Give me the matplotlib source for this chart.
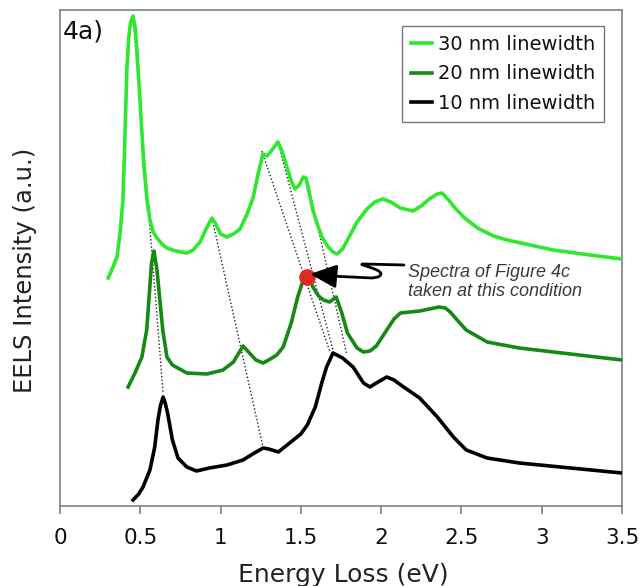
import numpy as np
import matplotlib
matplotlib.use("Agg")
import matplotlib.pyplot as plt
from matplotlib.path import Path
from matplotlib.patches import PathPatch

# ---------------- data ----------------
e30 = [0.30, 0.33, 0.355, 0.374, 0.392, 0.405, 0.417, 0.428, 0.440, 0.455, 0.468,
       0.479, 0.498, 0.523, 0.542, 0.560, 0.58, 0.604, 0.64, 0.666, 0.72, 0.791,
       0.83, 0.872, 0.91, 0.946, 0.97, 1.00, 1.04, 1.08, 1.121, 1.16, 1.202,
       1.235, 1.264, 1.289, 1.32, 1.357, 1.38, 1.413, 1.44, 1.463, 1.49, 1.515,
       1.532, 1.555, 1.575, 1.60, 1.631, 1.67, 1.70, 1.725, 1.76, 1.80, 1.85,
       1.912, 1.96, 2.011, 2.06, 2.12, 2.198, 2.25, 2.30, 2.35, 2.379, 2.42,
       2.46, 2.52, 2.6, 2.7, 2.783, 2.9, 3.07, 3.3, 3.5]
i30 = [228, 239, 249, 273, 306, 373, 439, 468, 484, 490, 478,
       456, 406, 339, 306, 286, 274, 268, 261, 258, 255, 253,
       256, 264, 277, 288, 282, 272, 269, 272, 277, 290, 308,
       333, 352, 350, 356, 364, 356, 339, 325, 317, 321, 329,
       328, 311, 296, 283, 269, 259, 254, 252, 257, 269, 284,
       297, 304, 307, 304, 298, 295, 300, 307, 312, 313, 306,
       298, 288, 278, 270, 266, 262, 256, 251, 247]

e20 = [0.424, 0.467, 0.51, 0.54, 0.555, 0.57, 0.585, 0.604, 0.62, 0.64, 0.666,
       0.70, 0.79, 0.915, 1.015, 1.08, 1.14, 1.18, 1.22, 1.265, 1.31, 1.35,
       1.39, 1.44, 1.48, 1.515, 1.545, 1.575, 1.61, 1.64, 1.68, 1.72, 1.755,
       1.79, 1.85, 1.89, 1.93, 1.97, 2.035, 2.08, 2.12, 2.18, 2.24, 2.30, 2.36,
       2.40, 2.43, 2.49, 2.53, 2.66, 2.86, 3.18, 3.5]
i20 = [119, 133, 149, 176, 209, 243, 255, 236, 209, 176, 149,
       141, 133, 132, 136, 144, 160, 153, 146, 143, 147, 151,
       159, 183, 209, 226, 231, 219, 210, 206, 204, 209, 193,
       173, 158, 154, 155, 160, 176, 187, 193, 194, 195, 197, 199,
       198, 194, 183, 176, 164, 158, 152, 146]

e10 = [0.455, 0.49, 0.517, 0.56, 0.59, 0.61, 0.625, 0.642, 0.655, 0.67, 0.70,
       0.735, 0.79, 0.85, 0.93, 1.04, 1.14, 1.20, 1.265, 1.30, 1.36, 1.43,
       1.50, 1.54, 1.59, 1.63, 1.66, 1.70, 1.76, 1.825, 1.89, 1.93, 1.97,
       2.035, 2.08, 2.14, 2.24, 2.35, 2.45, 2.53, 2.66, 2.86, 3.18, 3.5]
i10 = [6, 12, 19, 36, 59, 86, 100, 109, 103, 93, 66,
       48, 39, 35, 38, 41, 46, 52, 58, 57, 54, 63,
       72, 81, 99, 123, 139, 153, 148, 139, 123, 119, 123,
       129, 126, 119, 108, 89, 69, 56, 48, 43, 38, 33]

# dotted peak-tracking guides: (start eV, start I, end eV, end I)
guide_e0 = [0.455, 0.946, 1.257, 1.357, 1.538]
guide_i0 = [490, 288, 355, 364, 327]
guide_e1 = [0.642, 1.264, 1.681, 1.700, 1.787]
guide_i1 = [113, 59, 154, 156, 151]

marked_e = [1.538]
marked_i = [229]

labels = ["30 nm linewidth", "20 nm linewidth", "10 nm linewidth"]
xticks = [0, 0.5, 1, 1.5, 2, 2.5, 3, 3.5]
xtick_labels = ["0", "0.5", "1", "1.5", "2", "2.5", "3", "3.5"]

# ---------------- figure ----------------
W, H = 640, 586
fig = plt.figure(figsize=(6.4, 5.86), dpi=100)
ax = fig.add_axes([60 / W, (H - 506) / H, (622 - 60) / W, (506 - 10) / H])
ax.set_xlim(0, 3.5)
ax.set_ylim(0, 496)

c30, c20, c10 = "#2ee82e", "#148a14", "#000000"

for a, b, c, d in zip(guide_e0, guide_i0, guide_e1, guide_i1):
    ax.plot([a, c], [b, d], color="#222222", lw=1.0, ls=(0, (1, 1.6)), zorder=1)

l30, = ax.plot(e30, i30, color=c30, lw=2.6, zorder=3, solid_joinstyle="round")
l20, = ax.plot(e20, i20, color=c20, lw=2.6, zorder=3, solid_joinstyle="round")
l10, = ax.plot(e10, i10, color=c10, lw=2.6, zorder=3, solid_joinstyle="round")

ax.plot(marked_e, marked_i, "o", color="#e02a1f", ms=11, zorder=5, mec="#e02a1f")

ax.set_xticks(xticks)
ax.set_xticklabels(xtick_labels, fontsize=15.5)
ax.set_yticks([])
ax.tick_params(axis="x", direction="out", length=6, width=1.2, color="#808080",
               pad=10, labelcolor="#111111")
for s in ax.spines.values():
    s.set_color("#808080")
    s.set_linewidth(1.2)

fig.text(343 / W, 1 - 575 / H, "Energy Loss (eV)", fontsize=18, ha="center",
         va="center", color="#222222")
fig.text(25 / W, 1 - 270 / H, "EELS Intensity (a.u.)", fontsize=17.5, ha="center",
         va="center", rotation=90, color="#222222")
fig.text(63 / W, 1 - 32 / H, "4a)", fontsize=18, ha="left", va="center",
         color="#111111")

leg = ax.legend([l30, l20, l10], labels, loc="upper right",
                bbox_to_anchor=(604 / W, 1 - 26 / H), bbox_transform=fig.transFigure,
                fontsize=14, frameon=True, fancybox=False, handlelength=1.1,
                handletextpad=0.3, borderpad=0.45, labelspacing=0.55,
                borderaxespad=0)
leg.get_frame().set_edgecolor("#555555")
leg.get_frame().set_linewidth(1.0)
for t in leg.get_texts():
    t.set_color("#111111")

# annotation text and squiggle arrow (pixel -> data helpers)
def px(xp, yp):
    return ((xp - 60) / 160.6, 506 - yp)

fig.text(408 / W, 1 - 277 / H, "Spectra of Figure 4c", fontsize=13,
         family="Liberation Sans", style="italic", color="#3a3a3a", va="baseline")
fig.text(408 / W, 1 - 296 / H, "taken at this condition", fontsize=13,
         family="Liberation Sans", style="italic", color="#3a3a3a", va="baseline")

verts = [px(404, 265), px(364, 264), px(352, 264), px(392, 270), px(378, 277),
         px(372, 278), px(330, 276)]
codes = [Path.MOVETO, Path.LINETO, Path.CURVE4, Path.CURVE4, Path.CURVE4,
         Path.LINETO, Path.LINETO]
ax.add_patch(PathPatch(Path(verts, codes), fill=False, lw=2.0, color="black",
                       zorder=6, capstyle="round", joinstyle="round"))
ax.annotate("", xy=px(310, 274), xytext=px(332, 276),
            arrowprops=dict(arrowstyle="-|>,head_length=0.9,head_width=0.4",
                            mutation_scale=18, lw=2.0, color="black",
                            shrinkA=0, shrinkB=0), zorder=7)

fig.savefig("out.png", dpi=100)
